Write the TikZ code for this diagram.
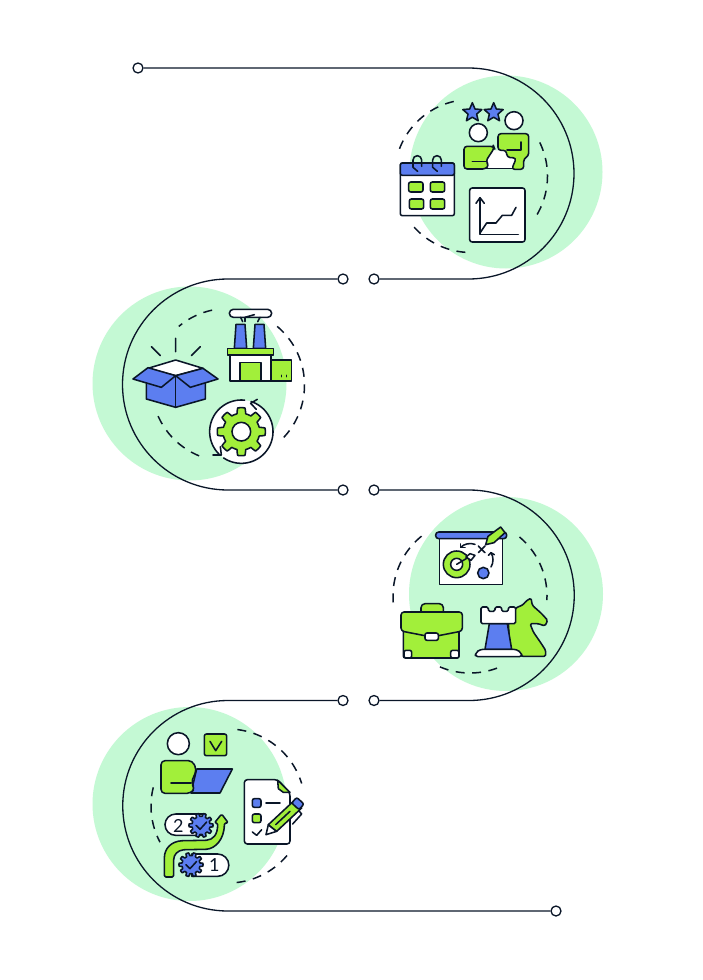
\documentclass[tikz,border=0pt]{standalone}
\usepackage{fontspec}
\setmainfont{Lato}
\usetikzlibrary{shapes.geometric}
\definecolor{mint}{HTML}{C4F9D4}
\definecolor{limeg}{HTML}{A2EF3A}
\definecolor{blu}{HTML}{5C7EF0}
\definecolor{ink}{HTML}{0A1628}
\newcommand\arcP[5]{plot[domain=#4:#5,samples=70,variable=\t]({#1+#3*cos(\t)},{#2-#3*sin(\t)})}
\newcommand\gearP[6]{plot[domain=0:360,samples=#6,variable=\t]({#1+(#4+(#3-#4)*min(1,max(0,0.5+1.5*cos(#5*\t))))*cos(\t)},{#2+(#4+(#3-#4)*min(1,max(0,0.5+1.5*cos(#5*\t))))*sin(\t)})}
\tikzset{
  wire/.style={draw=ink,line width=1.3pt},
  termdot/.style={circle,draw=ink,fill=white,line width=1.3pt,minimum size=10pt,inner sep=0pt},
  disc/.style={mint},
  ringdash/.style={draw=ink,line width=1.5pt,dash pattern=on 9pt off 7.5pt},
  ln/.style={draw=ink,line width=1.55pt,line cap=round,line join=round},
  wf/.style={ln,fill=white},
  lf/.style={ln,fill=limeg},
  bf/.style={ln,fill=blu},
  rnd/.style={rounded corners=2pt},
  starshape/.style={star,star points=5,star point ratio=2.2,minimum size=20pt,inner sep=0pt,ln,fill=blu},
  numtext/.style={inner sep=0pt,text=ink,font=\fontsize{18}{18}\selectfont},
  zoomed/.style={x=.33333pt,y=-.33333pt}
}
\begin{document}
\begin{tikzpicture}[x=1pt,y=-1pt]
\useasboundingbox (0,0) rectangle (703,980);
\fill[white] (0,0) rectangle (703,980);
% discs
\fill[disc] (506,172) circle[radius=96.5];
\fill[disc] (189.5,383.5) circle[radius=97];
\fill[disc] (506,594) circle[radius=97];
\fill[disc] (189.5,804) circle[radius=97];
% dashed rings
\draw[ringdash] \arcP{471}{176}{76.5}{103}{161};
\draw[ringdash] \arcP{471}{176}{76.5}{222}{270};
\draw[ringdash] \arcP{471}{176}{76.5}{26}{-31};
\draw[ringdash] \arcP{228}{385}{76.5}{102}{130};
\draw[ringdash] \arcP{228}{385}{76.5}{50}{-44};
\draw[ringdash] \arcP{228}{385}{76.5}{204}{253};
\draw[ringdash] \arcP{470}{596}{77}{129}{188};
\draw[ringdash] \arcP{470}{596}{77}{50}{-3};
\draw[ringdash] \arcP{470}{596}{77}{247}{295};
\draw[ringdash] \arcP{228}{806}{77}{83}{17};
\draw[ringdash] \arcP{228}{806}{77}{-40}{-87};
\draw[ringdash] \arcP{228}{806}{77}{166}{208};
% terminals and main line
\node[termdot] (d1) at (138,68) {};
\node[termdot] (d2) at (374,279) {};
\node[termdot] (d3) at (343,279) {};
\node[termdot] (d4) at (343,490) {};
\node[termdot] (d5) at (374,490) {};
\node[termdot] (d6) at (374,700.5) {};
\node[termdot] (d7) at (343,700.5) {};
\node[termdot] (d8) at (556,911) {};
\draw[wire] (d1) -- (468.5,68) arc[start angle=-90,end angle=90,radius=105.5] -- (d2);
\draw[wire] (d3) -- (228,279) arc[start angle=-90,end angle=-270,radius=105.5] -- (d4);
\draw[wire] (d5) -- (469,490) arc[start angle=-90,end angle=90,radius=105.25] -- (d6);
\draw[wire] (d7) -- (228,700.5) arc[start angle=-90,end angle=-270,radius=105.25] -- (d8);

% ---------- icon 1
\begin{scope}[shift={(395,98)},zoomed]
\node[starshape] (s1) at (232,44) {};
\node[starshape] (s2) at (296,44) {};
\draw[wf] (250,104) circle[radius=27];
\draw[wf] (357,68) circle[radius=27];
\fill[white] (285,157)--(372,157)--(355,212)--(268,212)--cycle;
\draw[ln] (272,212)--(355,212);
\draw[lf,rounded corners=3pt] (207,145)--(296,145)--(298,150)--(272,190)--(282,201)--(272,213)--(207,213)--cycle;
\draw[ln] (232,190)--(272,190);
\draw[lf,rounded corners=3pt] (309,107)--(401,107)--(401,174)--(386,182)--(386,214)--(350,214)--(364,180)--(336,178)--(334,157)--(309,157)--cycle;
\draw[ln] (378,132)--(378,156)--(336,156);
% calendar
\draw[wf,rnd] (16,195) rectangle (178,353);
\draw[bf,rounded corners=2pt] (16,232)--(16,195)--(178,195)--(178,232)--cycle;
\draw[ln] (68,220)--(54,208)--(54,186) arc[start angle=-180,end angle=0,radius=13]--(80,205);
\draw[ln] (127,220)--(113,208)--(113,186) arc[start angle=-180,end angle=0,radius=13]--(139,205);
\draw[lf,rnd] (41,252) rectangle (84,282);
\draw[lf,rnd] (106,252) rectangle (149,282);
\draw[lf,rnd] (43,303) rectangle (86,333);
\draw[lf,rnd] (106,303) rectangle (149,333);
% chart
\draw[wf,rounded corners=2.5pt] (224,270) rectangle (390,432);
\draw[ln] (255,300)--(255,409)--(370,409);
\draw[ln] (243,316)--(255,299)--(268,316);
\draw[ln] (255,405)--(275,375)--(303,375)--(322,352)--(350,352)--(363,328);
\end{scope}

% ---------- icon 2 : box and gear
\begin{scope}[shift={(128,305)},zoomed]
\draw[ln] (143,100)--(143,140) (70,125)--(97,152) (217,125)--(190,152);
\draw[bf] (55,230)--(55,282)--(143,307)--(232,282)--(232,230)--(143,212)--cycle;
\draw[ln] (143,212)--(143,307);
\draw[wf] (143,165)--(60,190)--(143,212)--(225,190)--cycle;
\draw[bf] (60,188)--(15,222)--(100,247)--(143,212)--cycle;
\draw[bf] (225,190)--(270,222)--(187,247)--(143,212)--cycle;
\fill[white] (340,380) circle[radius=95];
\draw[ln] \arcP{340}{380}{95}{84}{228};
\draw[ln] \arcP{340}{380}{95}{236}{432};
\draw[ln] (388,283)--(368,295)--(385,313);
\draw[ln] (255,450)--(280,450)--(277,425);
\draw[lf] \gearP{340}{380}{72}{55}{8}{241} -- cycle;
\draw[wf] (340,380) circle[radius=28];
\end{scope}

% ---------- icon 2 : factory
\begin{scope}[shift={(90,280)},zoomed]
\draw[wf,rounded corners=4pt] (418,88) rectangle (545,112);
\draw[ln] (452,112)--(458,125) (510,112)--(503,125) (465,125)--(465,112)--(493,104);
\draw[bf] (438,133)--(465,133)--(470,205)--(433,205)--cycle;
\draw[bf] (495,133)--(522,133)--(527,205)--(490,205)--cycle;
\draw[wf] (420,225) rectangle (543,303);
\draw[lf] (413,205) rectangle (550,225);
\draw[lf] (450,248) rectangle (513,303);
\draw[lf] (543,240) rectangle (605,303);
\draw[ln] (575,286)--(575,290) (590,286)--(590,290);
\end{scope}

% ---------- icon 3
\begin{scope}[shift={(395,522)},zoomed]
\draw[wf] (133,45) rectangle (322,187);
\draw[bf,rounded corners=3pt] (122,30) rectangle (335,50);
\draw[lf] (185,127) circle[radius=40];
\draw[wf] (185,127) circle[radius=18];
\draw[ln] (185,127)--(222,105);
\draw[wf] (213,105)--(225,95)--(240,100)--(228,115)--cycle;
\draw[bf] (265,153) circle[radius=17];
\draw[ln] (250,72)--(270,92) (270,72)--(250,92);
\draw[ln] (240,67) .. controls (225,62) and (208,65) .. (197,76);
\draw[ln] (197,66)--(197,76)--(210,76);
\draw[ln] (288,135) .. controls (296,122) and (296,105) .. (288,92);
\draw[ln] (280,100)--(288,92)--(298,98);
\draw[lf] (272,68)--(279,43)--(317,15)--(330,32)--(297,62)--cycle;
% briefcase
\draw[ln,rounded corners=4pt,fill=limeg] (78,270)--(78,245)--(145,245)--(145,270);
\draw[lf,rounded corners=2pt] (25,320) rectangle (192,408);
\draw[wf,rnd] (27,385)--(50,385)--(50,408)--(27,408)--cycle;
\draw[wf,rnd] (167,385)--(192,385)--(192,408)--(167,408)--cycle;
\draw[lf,rounded corners=3pt] (18,270)--(202,270)--(202,327)--(110,345)--(18,327)--cycle;
\draw[wf,rnd] (90,333) rectangle (130,355);
% knight and rook
\draw[lf,rounded corners=1.5pt] (362,258)--(385,248)--(392,238)--(408,228)--(412,250)--(440,275)--(458,295)--(450,312)--(430,305)--(405,305)--(415,330)--(437,362)--(452,385)--(452,403)--(380,403)--(345,382)--(340,305)--cycle;
\draw[bf] (283,305)--(270,382)--(350,382)--(337,305)--cycle;
\draw[wf,rounded corners=1.5pt] (258,255)--(280,255)--(280,268)--(300,268)--(300,255)--(320,255)--(320,268)--(340,268)--(340,255)--(362,255)--(362,305)--(258,305)--cycle;
\draw[wf,rounded corners=3pt] (240,404)--(243,392)--(255,382)--(365,382)--(378,392)--(382,404)--cycle;
\end{scope}

% ---------- icon 4
\begin{scope}[shift={(155,728)},zoomed]
\draw[wf] (70,47) circle[radius=33];
\draw[lf,rnd] (148,18) rectangle (215,83);
\draw[ln] (165,40)--(182,68)--(200,40);
\draw[bf] (125,123)--(232,123)--(195,195)--(108,195)--cycle;
\draw[lf,rounded corners=4pt] (18,98)--(112,98)--(125,125)--(108,165)--(120,180)--(108,196)--(18,196)--cycle;
\draw[ln] (48,165)--(108,165);
% pills, gears and arrow
\draw[wf] (62,258) -- (150,258) -- (150,322) -- (62,322) arc[start angle=90,end angle=270,radius=32] -- cycle;
\node[numtext] (n2) at (70,295) {2};
\draw[bf] \gearP{138}{292}{36}{27}{10}{241} -- cycle;
\draw[ln] (123,292)--(135,304)--(155,282);
\draw[wf] (110,378) -- (188,378) arc[start angle=-90,end angle=90,radius=33.5] -- (110,445) -- cycle;
\node[numtext] (n1) at (178,412) {1};
\draw[lf,rounded corners=1.5pt] (28,447)--(28,395) .. controls (28,360) and (50,340) .. (85,338) -- (150,337) .. controls (175,335) and (188,320) .. (188,285) -- (178,285)--(200,258)--(220,285)--(208,285) .. controls (208,335) and (180,362) .. (150,364) -- (90,365) .. controls (68,367) and (56,380) .. (56,400) -- (56,447) -- cycle;
\draw[bf] \gearP{108}{410}{36}{27}{10}{241} -- cycle;
\draw[ln] (93,410)--(105,422)--(125,400);
% document
\draw[wf,rounded corners=3pt] (268,155)--(368,155)--(405,195)--(405,348)--(268,348)--cycle;
\draw[lf] (368,157)--(405,193)--(385,193)--(370,182)--cycle;
\draw[bf,rnd] (292,212) rectangle (318,238);
\draw[ln] (333,225)--(375,225);
\draw[lf,rnd] (292,258) rectangle (318,284);
\draw[ln] (292,312)--(305,322)--(320,305);
\draw[ln] (413,288)--(440,258)--(433,250);
\draw[wf] (333,320)--(340,290)--(365,310)--cycle;
\draw[lf] (340,290)--(415,220)--(440,240)--(365,310)--cycle;
\draw[ln] (362,290)--(405,250);
\draw[bf,rnd] (410,225)--(425,208)--(447,228)--(432,245)--cycle;
\end{scope}
\end{tikzpicture}
\end{document}
